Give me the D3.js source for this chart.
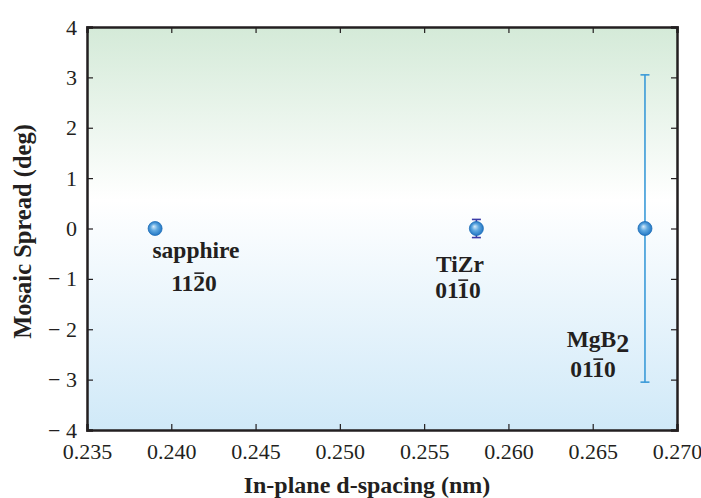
<!DOCTYPE html>
<html>
<head>
<meta charset="utf-8">
<script src="https://cdn.jsdelivr.net/npm/d3@7"></script>
<style>
body { margin: 0; background: #fff; }
text { font-family: "Liberation Serif", "Times New Roman", serif; }
</style>
</head>
<body>
<script>
var spacing = [0.23904, 0.2581, 0.2681];
var spread = [0, 0, 0];
var spreadErr = [0, 0.18, 3.05];
var errColors = ["#1f6fb8", "#3b3ba8", "#3a9ad8"];
var xTicks = [0.235, 0.240, 0.245, 0.250, 0.255, 0.260, 0.265, 0.270];
var yTicks = [-4, -3, -2, -1, 0, 1, 2, 3, 4];

var margin = {top: 27, right: 24, bottom: 68, left: 87};
var width = 701 - margin.left - margin.right;
var height = 498 - margin.top - margin.bottom;

var xScale = d3.scaleLinear().domain([0.235, 0.270]).range([0, width]);
var yScale = d3.scaleLinear().domain([-4, 4]).range([height, 0]);

var svg = d3.select("body").append("svg")
  .attr("width", 701)
  .attr("height", 498);

var defs = svg.append("defs");
var bg = defs.append("linearGradient")
  .attr("id", "bg").attr("x1", 0).attr("y1", 0).attr("x2", 0).attr("y2", 1);
bg.append("stop").attr("offset", "0%").attr("stop-color", "#d4ead8");
bg.append("stop").attr("offset", "43%").attr("stop-color", "#ffffff");
bg.append("stop").attr("offset", "100%").attr("stop-color", "#d0e9f8");

var ball = defs.append("radialGradient")
  .attr("id", "ball").attr("cx", "50%").attr("cy", "50%").attr("r", "55%")
  .attr("fx", "38%").attr("fy", "35%");
ball.append("stop").attr("offset", "0%").attr("stop-color", "#d8ecfa");
ball.append("stop").attr("offset", "45%").attr("stop-color", "#5fa8e0");
ball.append("stop").attr("offset", "100%").attr("stop-color", "#1a6fbf");

var g = svg.append("g")
  .attr("transform", "translate(" + margin.left + "," + margin.top + ")");

g.append("rect")
  .attr("width", width)
  .attr("height", height)
  .attr("fill", "url(#bg)");

// axes, ticks pointing inward
var fmtY = function(d) { return d < 0 ? "\u2212 " + Math.abs(d) : d; };

var xAxis = g.append("g")
  .attr("transform", "translate(0," + height + ")")
  .call(d3.axisBottom(xScale).tickValues(xTicks).tickSize(-6).tickPadding(13)
    .tickFormat(d3.format(".3f")));
var xTop = g.append("g")
  .call(d3.axisTop(xScale).tickValues(xTicks).tickSize(-6).tickFormat(""));
var yAxis = g.append("g")
  .call(d3.axisLeft(yScale).tickValues(yTicks).tickSize(-6).tickPadding(10)
    .tickFormat(fmtY));
var yRight = g.append("g")
  .attr("transform", "translate(" + width + ",0)")
  .call(d3.axisRight(yScale).tickValues(yTicks).tickSize(-6).tickFormat(""));

[xAxis, xTop, yAxis, yRight].forEach(function(a) {
  a.select(".domain").attr("stroke", "#231f20").attr("stroke-width", 2.5);
  a.selectAll(".tick line").attr("stroke", "#231f20").attr("stroke-width", 1.2);
  a.selectAll(".tick text")
    .attr("fill", "#231f20")
    .style("font-size", "22px")
    .style("font-family", "'Liberation Serif', serif");
});
yAxis.selectAll(".tick text").attr("dy", "0.32em");
xAxis.selectAll(".tick text").attr("dy", "0.72em");

// error bars
var pts = spacing.map(function(d, i) {
  return {x: d, y: spread[i], e: spreadErr[i], c: errColors[i]};
});

var eb = g.selectAll(".err").data(pts.filter(function(d) { return d.e > 0; }))
  .enter().append("g").attr("class", "err")
  .attr("stroke", function(d) { return d.c; })
  .attr("stroke-width", 1.6);
eb.append("line")
  .attr("x1", function(d) { return xScale(d.x); })
  .attr("x2", function(d) { return xScale(d.x); })
  .attr("y1", function(d) { return yScale(d.y + d.e); })
  .attr("y2", function(d) { return yScale(d.y - d.e); });
eb.selectAll(".cap").data(function(d) { return [d.y + d.e, d.y - d.e].map(function(v) { return {x: d.x, v: v}; }); })
  .enter().append("line")
  .attr("x1", function(d) { return xScale(d.x) - 4.5; })
  .attr("x2", function(d) { return xScale(d.x) + 4.5; })
  .attr("y1", function(d) { return yScale(d.v); })
  .attr("y2", function(d) { return yScale(d.v); });

g.selectAll(".pt").data(pts).enter().append("circle")
  .attr("class", "pt")
  .attr("cx", function(d) { return xScale(d.x); })
  .attr("cy", function(d) { return yScale(d.y); })
  .attr("r", 7)
  .attr("fill", "url(#ball)")
  .attr("stroke", "#1d6db8")
  .attr("stroke-width", 0.8);

// labels
var labSize = 23.5;
function overlined(parent, x, y, str, barIndex) {
  var t = parent.append("text")
    .attr("x", x).attr("y", y)
    .attr("text-anchor", "middle")
    .style("font-size", labSize + "px").style("font-weight", "bold")
    .attr("fill", "#231f20")
    .text(str);
  var box = t.node().getExtentOfChar(barIndex);
  parent.append("line")
    .attr("x1", box.x + 1).attr("x2", box.x + box.width - 1)
    .attr("y1", y - labSize * 0.76).attr("y2", y - labSize * 0.76)
    .attr("stroke", "#231f20").attr("stroke-width", 1.6);
  return t;
}

var lab = svg.append("g");
lab.append("text").attr("x", 196).attr("y", 258).attr("text-anchor", "middle")
  .style("font-size", labSize + "px").style("font-weight", "bold").attr("fill", "#231f20")
  .text("sapphire");
overlined(lab, 194, 291, "1120", 2);

lab.append("text").attr("x", 460).attr("y", 272).attr("text-anchor", "middle")
  .style("font-size", labSize + "px").style("font-weight", "bold").attr("fill", "#231f20")
  .text("TiZr");
overlined(lab, 458, 298, "0110", 2);

var mg = lab.append("text").attr("x", 598).attr("y", 347).attr("text-anchor", "middle")
  .style("font-size", labSize + "px").style("font-weight", "bold").attr("fill", "#231f20");
mg.append("tspan").text("MgB");
mg.append("tspan").attr("dy", 5).style("font-size", "26px").text("2");
overlined(lab, 593, 377, "0110", 2);

svg.append("text")
  .attr("transform", "translate(31," + (margin.top + height / 2 + 3) + ") rotate(-90)")
  .attr("text-anchor", "middle")
  .style("font-size", "24.5px").style("font-weight", "bold").attr("fill", "#231f20")
  .text("Mosaic Spread (deg)");

svg.append("text")
  .attr("x", 367).attr("y", 493)
  .attr("text-anchor", "middle")
  .style("font-size", "24px").style("font-weight", "bold").attr("fill", "#231f20")
  .text("In-plane d-spacing (nm)");
</script>
</body>
</html>
